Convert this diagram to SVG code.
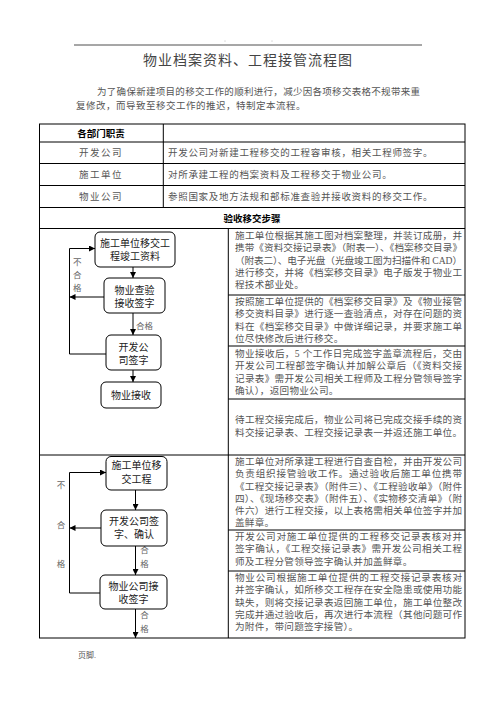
<svg xmlns="http://www.w3.org/2000/svg" width="496" height="702" viewBox="0 0 496 702">
<style>
.t{font-family:"Liberation Serif","Noto Sans CJK SC",serif;}
.title{font-size:14px;fill:#444;letter-spacing:1px;}
.intro{font-size:9.5px;fill:#555;}
.cell{font-size:9.5px;fill:#555;}
.hd{font-size:9.5px;font-weight:bold;fill:#000;}
.body{font-size:9.6px;fill:#555;}
.box{fill:#fff;stroke:#000;stroke-width:1;}
.bx{font-size:10px;fill:#222;text-anchor:middle;}
.lb{font-size:8.5px;fill:#666;text-anchor:middle;}
.ln{stroke:#000;stroke-width:1;fill:none;}
.cn{stroke:#000;stroke-width:1;fill:none;}
</style>
<defs>
<marker id="ah" markerWidth="6" markerHeight="6" refX="6" refY="3" orient="auto" markerUnits="userSpaceOnUse">
<path d="M0,0 L6,3 L0,6 z" fill="#000"/>
</marker>
</defs>
<rect width="496" height="702" fill="#fff"/>

<g id="header">
<line x1="74" y1="45" x2="422" y2="45" stroke="#222" stroke-width="0.8"/>
<circle cx="225" cy="41" r="0.4" fill="#666"/>
<circle cx="272" cy="41" r="0.4" fill="#666"/>
<text class="t title" x="248" y="65" text-anchor="middle">物业档案资料、工程接管流程图</text>
<text class="t intro" x="97" y="94.6" textLength="323" lengthAdjust="spacing">为了确保新建项目的移交工作的顺利进行，减少因各项移交表格不规带来重</text>
<text class="t intro" x="76" y="108.6" letter-spacing="0.5">复修改，而导致至移交工作的推迟，特制定本流程。</text>
</g>

<g id="table">
<rect x="39.5" y="124" width="425.5" height="514" class="ln"/>
<line x1="39.5" y1="142" x2="465" y2="142" class="ln"/>
<line x1="39.5" y1="163.5" x2="465" y2="163.5" class="ln"/>
<line x1="39.5" y1="185.5" x2="465" y2="185.5" class="ln"/>
<line x1="39.5" y1="207.5" x2="465" y2="207.5" class="ln"/>
<line x1="39.5" y1="228.5" x2="465" y2="228.5" class="ln"/>
<line x1="163.3" y1="124" x2="163.3" y2="207.5" class="ln"/>
<line x1="228.3" y1="228.5" x2="228.3" y2="638" class="ln"/>
<line x1="228.3" y1="295" x2="465" y2="295" class="ln"/>
<line x1="228.3" y1="346" x2="465" y2="346" class="ln"/>
<line x1="228.3" y1="399" x2="465" y2="399" class="ln"/>
<line x1="39.5" y1="455" x2="465" y2="455" class="ln"/>
<line x1="228.3" y1="530" x2="465" y2="530" class="ln"/>
<line x1="228.3" y1="571" x2="465" y2="571" class="ln"/>

<text class="t hd" x="101" y="136.6" text-anchor="middle">各部门职责</text>
<text class="t cell" x="101" y="156.3" text-anchor="middle" letter-spacing="1.5">开发公司</text>
<text class="t cell" x="101" y="178.1" text-anchor="middle" letter-spacing="1.5">施工单位</text>
<text class="t cell" x="101" y="200.1" text-anchor="middle" letter-spacing="1.5">物业公司</text>
<text class="t cell" x="168" y="156.3" letter-spacing="0.7">开发公司对新建工程移交的工程容审核，相关工程师签字。</text>
<text class="t cell" x="168" y="178.1" letter-spacing="0.7">对所承建工程的档案资料及工程移交于物业公司。</text>
<text class="t cell" x="168" y="200.1" letter-spacing="0.7">参照国家及地方法规和部标准查验并接收资料的移交工作。</text>
<text class="t hd" x="252" y="221.6" text-anchor="middle">验收移交步骤</text>

<text class="t body" x="235" y="239.1" textLength="227" lengthAdjust="spacing">施工单位根据其施工图对档案整理，并装订成册，并</text>
<text class="t body" x="235" y="251.3" textLength="227" lengthAdjust="spacing">携带《资料交接记录表》（附表一）、《档案移交目录》</text>
<text class="t body" x="235" y="263.5" textLength="227" lengthAdjust="spacing">（附表二）、电子光盘（光盘竣工图为扫描件和 CAD）</text>
<text class="t body" x="235" y="275.7" textLength="227" lengthAdjust="spacing">进行移交，并将《档案移交目录》电子版发于物业工</text>
<text class="t body" x="235" y="287.9" letter-spacing="0.27">程技术部业处。</text>

<text class="t body" x="235" y="305.1" textLength="227" lengthAdjust="spacing">按照施工单位提供的《档案移交目录》及《物业接管</text>
<text class="t body" x="235" y="317.3" textLength="227" lengthAdjust="spacing">移交资料目录》进行逐一查验清点，对存在问题的资</text>
<text class="t body" x="235" y="329.5" textLength="227" lengthAdjust="spacing">料在《档案移交目录》中做详细记录，并要求施工单</text>
<text class="t body" x="235" y="341.7" letter-spacing="0.27">位尽快修改后进行移交。</text>

<text class="t body" x="235" y="357.1" textLength="227" lengthAdjust="spacing">物业接收后，5 个工作日完成签字盖章流程后，交由</text>
<text class="t body" x="235" y="369.3" textLength="227" lengthAdjust="spacing">开发公司工程部签字确认并加解公章后（《资料交接</text>
<text class="t body" x="235" y="381.5" textLength="227" lengthAdjust="spacing">记录表》需开发公司相关工程师及工程分管领导签字</text>
<text class="t body" x="235" y="393.7" letter-spacing="0.27">确认），返回物业公司。</text>

<text class="t body" x="235" y="422.8" textLength="227" lengthAdjust="spacing">待工程交接完成后，物业公司将已完成交接手续的资</text>
<text class="t body" x="235" y="435.6" textLength="227" lengthAdjust="spacing">料交接记录表、工程交接记录表一并返还施工单位。</text>

<text class="t body" x="235" y="465.1" textLength="227" lengthAdjust="spacing">施工单位对所承建工程进行自查自检，并由开发公司</text>
<text class="t body" x="235" y="477.3" textLength="227" lengthAdjust="spacing">负责组织接管验收工作。通过验收后施工单位携带</text>
<text class="t body" x="235" y="489.5" textLength="227" lengthAdjust="spacing">《工程交接记录表》（附件三）、《工程验收单》（附件</text>
<text class="t body" x="235" y="501.7" textLength="227" lengthAdjust="spacing">四）、《现场移交表》（附件五）、《实物移交清单》（附</text>
<text class="t body" x="235" y="513.9" textLength="227" lengthAdjust="spacing">件六）进行工程交接，以上表格需相关单位签字并加</text>
<text class="t body" x="235" y="526.1" letter-spacing="0.27">盖鲜章。</text>

<text class="t body" x="235" y="540.1" textLength="227" lengthAdjust="spacing">开发公司对施工单位提供的工程移交记录表核对并</text>
<text class="t body" x="235" y="552.3" textLength="227" lengthAdjust="spacing">签字确认，《工程交接记录表》需开发公司相关工程</text>
<text class="t body" x="235" y="564.5" letter-spacing="0.27">师及工程分管领导签字确认并加盖鲜章。</text>

<text class="t body" x="235" y="581.1" textLength="227" lengthAdjust="spacing">物业公司根据施工单位提供的工程交接记录表核对</text>
<text class="t body" x="235" y="593.3" textLength="227" lengthAdjust="spacing">并签字确认，如所移交工程存在安全隐患或使用功能</text>
<text class="t body" x="235" y="605.5" textLength="227" lengthAdjust="spacing">缺失，则将交接记录表返回施工单位，施工单位整改</text>
<text class="t body" x="235" y="617.7" textLength="227" lengthAdjust="spacing">完成并通过验收后，再次进行本流程（其他问题可作</text>
<text class="t body" x="235" y="629.9" letter-spacing="0.27">为附件，带问题签字接管）。</text>
</g>

<g id="connectors">
<line x1="133" y1="267" x2="133" y2="278" class="cn" marker-end="url(#ah)"/>
<line x1="133" y1="313" x2="133" y2="335" class="cn" marker-end="url(#ah)"/>
<line x1="133" y1="370" x2="133" y2="382" class="cn" marker-end="url(#ah)"/>
<polyline points="106,354 69.5,354 69.5,248.5 95,248.5" class="cn" marker-end="url(#ah)"/>
<line x1="104" y1="297" x2="69.5" y2="297" class="cn" marker-end="url(#ah)"/>
<text class="t lb" x="144.5" y="329">合格</text>
<text class="t lb" x="77.3" y="265">不</text>
<text class="t lb" x="77.3" y="278">合</text>
<text class="t lb" x="77.3" y="290.5">格</text>

<line x1="135.5" y1="490" x2="135.5" y2="510" class="cn" marker-end="url(#ah)"/>
<line x1="135.5" y1="546" x2="135.5" y2="575" class="cn" marker-end="url(#ah)"/>
<line x1="135.5" y1="609" x2="135.5" y2="638" class="cn" marker-end="url(#ah)"/>
<polyline points="100,593 69.5,593 69.5,472.5 106,472.5" class="cn" marker-end="url(#ah)"/>
<line x1="101" y1="528" x2="69.5" y2="528" class="cn" marker-end="url(#ah)"/>
<text class="t lb" x="144.5" y="553">合</text>
<text class="t lb" x="144.5" y="566.5">格</text>
<text class="t lb" x="144.5" y="618">合</text>
<text class="t lb" x="144.5" y="631.5">格</text>
<text class="t lb" x="61" y="488">不</text>
<text class="t lb" x="61" y="528">合</text>
<text class="t lb" x="61" y="566.5">格</text>
</g>

<g id="n1">
<rect x="95" y="232" width="80" height="35" rx="5" class="box"/>
<text class="t bx" x="135" y="247">施工单位移交工</text>
<text class="t bx" x="135" y="260">程竣工资料</text>
</g>
<g id="n2">
<rect x="104" y="278" width="61" height="35" rx="5" class="box"/>
<text class="t bx" x="134.5" y="294">物业查验</text>
<text class="t bx" x="134.5" y="307">接收签字</text>
</g>
<g id="n3">
<rect x="106" y="335" width="55" height="35" rx="5" class="box"/>
<text class="t bx" x="133.5" y="350.5">开发公</text>
<text class="t bx" x="133.5" y="363.5">司签字</text>
</g>
<g id="n4">
<rect x="101" y="382" width="60" height="26" rx="5" class="box"/>
<text class="t bx" x="131" y="398.5">物业接收</text>
</g>

<g id="n5">
<rect x="106" y="456.5" width="61" height="33.5" rx="5" class="box"/>
<text class="t bx" x="136.5" y="469">施工单位移</text>
<text class="t bx" x="136.5" y="483">交工程</text>
</g>
<g id="n6">
<rect x="101" y="510" width="66" height="36" rx="5" class="box"/>
<text class="t bx" x="134" y="524.5">开发公司签</text>
<text class="t bx" x="134" y="538">字、确认</text>
</g>
<g id="n7">
<rect x="100" y="575" width="67" height="34" rx="5" class="box"/>
<text class="t bx" x="133.5" y="589.5">物业公司接</text>
<text class="t bx" x="133.5" y="603">收签字</text>
</g>

<g id="footer">
<text class="t" x="78" y="658" font-size="8" fill="#555">页脚.</text>
</g>
</svg>
